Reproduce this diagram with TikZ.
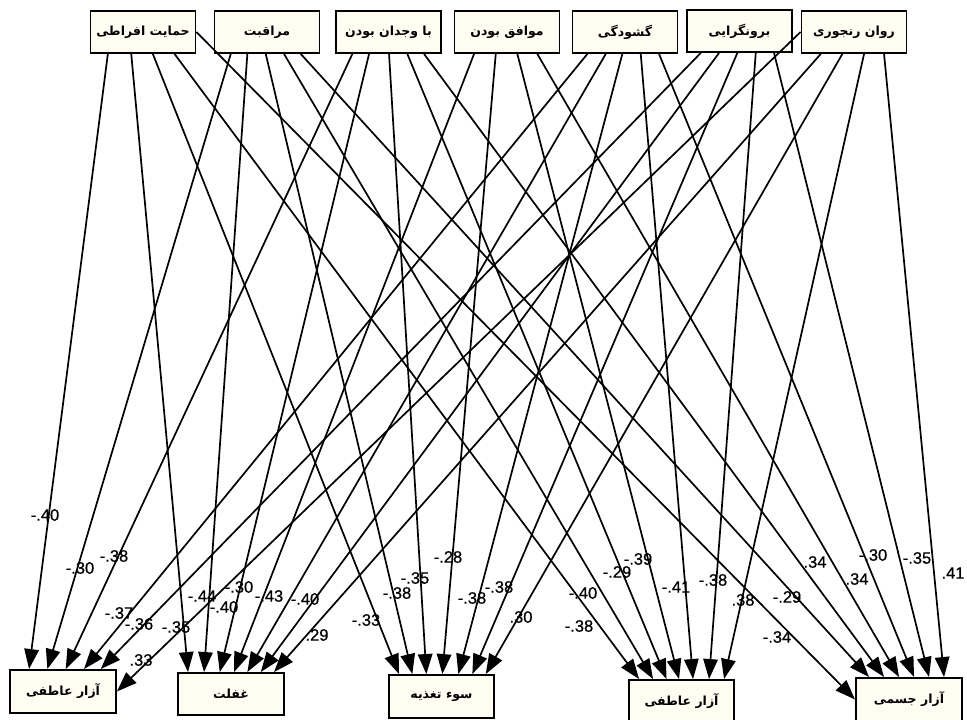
\documentclass[tikz,border=0pt]{standalone}
\usepackage{fontspec}
\setmainfont{Liberation Sans}
\newfontfamily\lblfont[FakeBold=0.6]{Liberation Sans}
\newfontfamily\fa[Script=Arabic]{DejaVu Sans}
\TeXXeTstate=1
\usetikzlibrary{arrows.meta}
\definecolor{boxfill}{RGB}{255,252,242}
\begin{document}
\begin{tikzpicture}[x=1pt,y=-1pt,
  box/.style={draw, line width=1.9pt, fill=boxfill, minimum width=105pt, minimum height=42pt, inner sep=0pt, font=\fa\bfseries\fontsize{12.5}{14}\selectfont},
  arr/.style={line width=1.7pt, -{Triangle[length=20pt,width=14.5pt]}},
  lbl/.style={font=\lblfont\fontsize{16.5}{18}\selectfont, inner sep=0pt}]
\useasboundingbox (0,0) rectangle (967,720);
\fill[white] (0,0) rectangle (967,720);
% top boxes
\node[box] (t1) at (143,32) {\beginR حمایت افراطی\endR};
\node[box] (t2) at (267,32) {\beginR مراقبت\endR};
\node[box] (t3) at (388.5,32) {\beginR با وجدان بودن\endR};
\node[box] (t4) at (507,32) {\beginR موافق بودن\endR};
\node[box] (t5) at (625,32) {\beginR گشودگی\endR};
\node[box] (t6) at (739.5,31) {\beginR برونگرایی\endR};
\node[box] (t7) at (854,32) {\beginR روان رنجوری\endR};
% bottom boxes
\node[box, minimum width=106pt, minimum height=43pt] (b1) at (63,691.5) {\beginR آزار عاطفی\endR};
\node[box, minimum width=106pt, minimum height=42pt] (b2) at (231,694) {\beginR غفلت\endR};
\node[box, minimum width=105pt, minimum height=43pt] (b3) at (441.5,696.5) {\beginR سوء تغذیه\endR};
\node[box, minimum width=105pt, minimum height=43pt] (b4) at (681.5,701.5) {\beginR آزار عاطفی\endR};
\node[box, minimum width=106pt, minimum height=43pt] (b5) at (909,699.5) {\beginR آزار جسمی\endR};
% t1
\draw[arr] ([xshift=18.3]t1.south west) -- ([xshift=20]b1.north west);
\draw[arr] ([xshift=41.7]t1.south west) -- ([xshift=11]b2.north west);
\draw[arr] ([xshift=63.3]t1.south west) -- ([xshift=11]b3.north west);
\draw[arr] ([xshift=85]t1.south west) -- ([xshift=11]b4.north west);
\draw[arr] (t1.east) -- (b5.west);
% t2
\draw[arr] ([xshift=17.2]t2.south west) -- ([xshift=38.3]b1.north west);
\draw[arr] ([xshift=33.8]t2.south west) -- ([xshift=27]b2.north west);
\draw[arr] ([xshift=52.2]t2.south west) -- ([xshift=24.3]b3.north west);
\draw[arr] ([xshift=70.5]t2.south west) -- ([xshift=25]b4.north west);
\draw[arr] ([xshift=87.2]t2.south west) -- ([xshift=14]b5.north west);
% t3
\draw[arr] ([xshift=17.3]t3.south west) -- ([xshift=56.7]b1.north west);
\draw[arr] ([xshift=34]t3.south west) -- ([xshift=42.7]b2.north west);
\draw[arr] ([xshift=54]t3.south west) -- ([xshift=38.3]b3.north west);
\draw[arr] ([xshift=72.3]t3.south west) -- ([xshift=38.5]b4.north west);
\draw[arr] ([xshift=89]t3.south west) -- ([xshift=29]b5.north west);
% t4
\draw[arr] ([xshift=20.5]t4.south west) -- ([xshift=57]b2.north west);
\draw[arr] ([xshift=42.2]t4.south west) -- ([xshift=54.3]b3.north west);
\draw[arr] ([xshift=63.8]t4.south west) -- ([xshift=51]b4.north west);
\draw[arr] ([xshift=83.8]t4.south west) -- ([xshift=44]b5.north west);
% t5
\draw[arr] ([xshift=15.8]t5.south west) -- ([xshift=75]b1.north west);
\draw[arr] ([xshift=34.2]t5.south west) -- ([xshift=70.3]b2.north west);
\draw[arr] ([xshift=50.8]t5.south west) -- ([xshift=70.3]b3.north west);
\draw[arr] ([xshift=69.2]t5.south west) -- ([xshift=65]b4.north west);
\draw[arr] ([xshift=87.5]t5.south west) -- ([xshift=59]b5.north west);
% t6
\draw[arr] ([xshift=14.7]t6.south west) -- ([xshift=91.7]b1.north west);
\draw[arr] ([xshift=33]t6.south west) -- ([xshift=83.7]b2.north west);
\draw[arr] ([xshift=51.3]t6.south west) -- ([xshift=84.3]b3.north west);
\draw[arr] ([xshift=69.7]t6.south west) -- ([xshift=81]b4.north west);
\draw[arr] ([xshift=88]t6.south west) -- ([xshift=74]b5.north west);
% t7
\draw[arr] (t7.west) -- (b1.east);
\draw[arr] ([xshift=20.2]t7.south west) -- ([xshift=97]b2.north west);
\draw[arr] ([xshift=41.8]t7.south west) -- ([xshift=97.7]b3.north west);
\draw[arr] ([xshift=63.5]t7.south west) -- ([xshift=96]b4.north west);
\draw[arr] ([xshift=83.5]t7.south west) -- ([xshift=89]b5.north west);
% labels
\node[lbl] (l01) at (45,515) {-.40};
\node[lbl] (l02) at (80,568) {-.30};
\node[lbl] (l03) at (114,556) {-.38};
\node[lbl] (l04) at (119,613) {-.37};
\node[lbl] (l05) at (139,624) {-.36};
\node[lbl] (l06) at (176,627) {-.35};
\node[lbl] (l07) at (141,660) {.33};
\node[lbl] (l08) at (202,596) {-.44};
\node[lbl] (l09) at (239,587) {-.30};
\node[lbl] (l10) at (224,607) {-.40};
\node[lbl] (l11) at (269,596) {-.43};
\node[lbl] (l12) at (305,599) {-.40};
\node[lbl] (l13) at (317,635) {.29};
\node[lbl] (l14) at (366,620) {-.33};
\node[lbl] (l15) at (397,593) {-.38};
\node[lbl] (l16) at (415,578) {-.35};
\node[lbl] (l17) at (448,557) {-.28};
\node[lbl] (l18) at (472,598) {-.38};
\node[lbl] (l19) at (499,587) {-.38};
\node[lbl] (l20) at (521,617) {.30};
\node[lbl] (l21) at (583,593) {-.40};
\node[lbl] (l22) at (579,626) {-.38};
\node[lbl] (l23) at (617,572) {-.29};
\node[lbl] (l24) at (638,559) {-.39};
\node[lbl] (l25) at (676,587) {-.41};
\node[lbl] (l26) at (713,580) {-.38};
\node[lbl] (l27) at (743,600) {.38};
\node[lbl] (l28) at (815,562) {.34};
\node[lbl] (l29) at (873,555) {-.30};
\node[lbl] (l30) at (917,558) {-.35};
\node[lbl] (l31) at (953,573) {.41};
\node[lbl] (l32) at (857,579) {.34};
\node[lbl] (l33) at (787,597) {-.29};
\node[lbl] (l34) at (777,637) {-.34};
\end{tikzpicture}
\end{document}
